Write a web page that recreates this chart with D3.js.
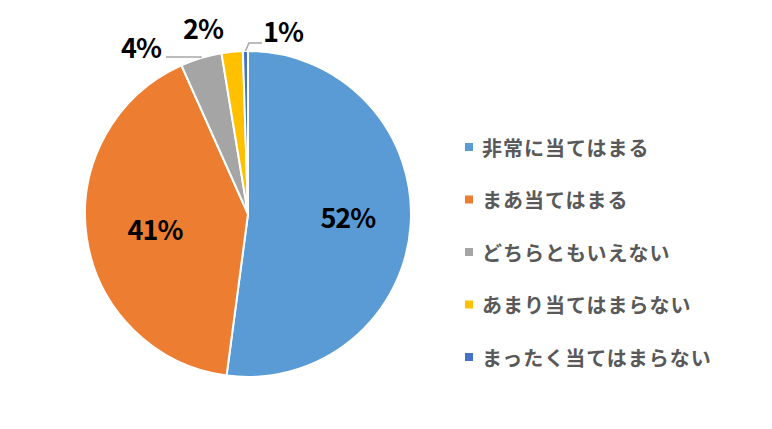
<!DOCTYPE html>
<html>
  <head>
    <meta charset="UTF-8" />
    <title>回答割合</title>
    <script src="https://d3js.org/d3.v7.min.js"></script>
    <style>
      body {
        margin: 0;
        background-color: #fff;
        font-family: "Noto Sans CJK JP", "Noto Sans", sans-serif;
      }
      .slice-label {
        font-size: 27px;
        font-weight: bold;
        fill: #000;
        letter-spacing: -1px;
      }
      .legend text {
        font-size: 20px;
        font-weight: bold;
        fill: #595959;
        letter-spacing: 1px;
      }
    </style>
  </head>
  <body>
    <div id="chart"></div>
    <script>
      const categories = [
        "非常に当てはまる",
        "まあ当てはまる",
        "どちらともいえない",
        "あまり当てはまらない",
        "まったく当てはまらない",
      ];
      const values = [52.1, 41.2, 4.1, 2.1, 0.5];
      const labels = ["52%", "41%", "4%", "2%", "1%"];
      const colors = ["#5B9BD5", "#ED7D31", "#A5A5A5", "#FFC000", "#4472C4"];

      const width = 772;
      const height = 429;
      const cx = 248;
      const cy = 214;
      const radius = 163;

      const svg = d3
        .select("#chart")
        .append("svg")
        .attr("width", width)
        .attr("height", height);

      const pie = d3.pie().sort(null).value((d) => d);
      const arcs = pie(values);
      const arc = d3.arc().innerRadius(0).outerRadius(radius);

      const g = svg.append("g").attr("transform", `translate(${cx},${cy})`);

      g.selectAll("path")
        .data(arcs)
        .enter()
        .append("path")
        .attr("d", arc)
        .attr("fill", (d, i) => colors[i])
        .attr("stroke", "#fff")
        .attr("stroke-width", 2)
        .attr("stroke-linejoin", "round");

      // point on the outer edge, at the middle of a slice
      function edgePoint(d) {
        const a = (d.startAngle + d.endAngle) / 2;
        return [radius * Math.sin(a), -radius * Math.cos(a)];
      }

      // labels inside the two big slices
      const inner = d3.arc().innerRadius(radius * 0.62).outerRadius(radius * 0.62);
      const nudge = [[-1, -4], [7, 0]];
      [0, 1].forEach((i) => {
        const c = inner.centroid(arcs[i]);
        g.append("text")
          .attr("class", "slice-label")
          .attr("x", c[0] + nudge[i][0])
          .attr("y", c[1] + nudge[i][1])
          .attr("text-anchor", "middle")
          .attr("dominant-baseline", "central")
          .text(labels[i]);
      });

      // small slices: labels outside with leader lines
      const outside = [
        { i: 2, text: [-107, -168], elbow: [-47, -157], end: [-82, -157] },
        { i: 3, text: [-45, -187], elbow: null, end: null },
        { i: 4, text: [35, -184], elbow: [1, -171], end: [14, -171] },
      ];

      outside.forEach((o) => {
        const p = edgePoint(arcs[o.i]);
        if (o.elbow) {
          g.append("polyline")
            .attr(
              "points",
              [p, o.elbow, o.end].map((q) => q.join(",")).join(" ")
            )
            .attr("fill", "none")
            .attr("stroke", "#A6A6A6")
            .attr("stroke-width", 1.5);
        }
        g.append("text")
          .attr("class", "slice-label")
          .attr("x", o.text[0])
          .attr("y", o.text[1])
          .attr("text-anchor", "middle")
          .attr("dominant-baseline", "central")
          .text(labels[o.i]);
      });

      // legend
      const legendY = d3
        .scalePoint()
        .domain(categories)
        .range([147, 357]);

      const legend = svg
        .append("g")
        .attr("class", "legend")
        .selectAll("g")
        .data(categories)
        .enter()
        .append("g")
        .attr("transform", (d) => `translate(465,${legendY(d)})`);

      legend
        .append("rect")
        .attr("x", 0)
        .attr("y", -4)
        .attr("width", 8)
        .attr("height", 8)
        .attr("fill", (d, i) => colors[i]);

      legend
        .append("text")
        .attr("x", 17)
        .attr("y", 0)
        .attr("dominant-baseline", "central")
        .text((d) => d);
    </script>
  </body>
</html>
